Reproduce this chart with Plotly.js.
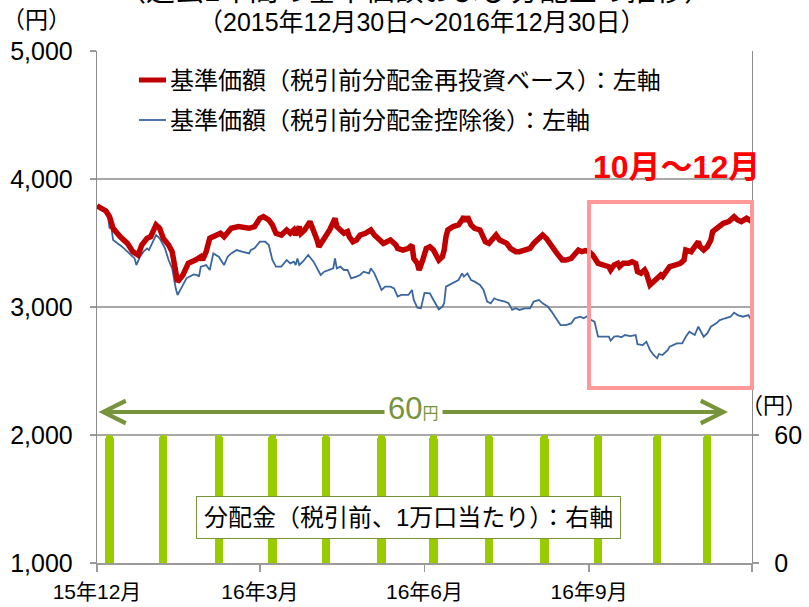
<!DOCTYPE html>
<html>
<head>
<meta charset="utf-8">
<script src="https://cdn.plot.ly/plotly-3.0.1.min.js"></script>
<style>html,body{margin:0;padding:0;background:#fff;}#chart{width:809px;height:607px;}</style>
</head>
<body>
<div id="chart"></div>
<script>
// ---- data ----
// day offsets counted from 2015-12-30
const redDays = [0,5,7,9,13,17,20,23,25,28,30,33,35,37,40,42,44,45,48,51,55,58,59,61,63,66,69,71,73,75,79,85,88,91,93,96,98,100,103,106,108,110,111,113,114,116,119,121,123,124,126,128,130,133,134,136,138,140,141,143,145,147,150,153,155,158,160,162,164,167,168,171,174,176,177,179,180,182,184,186,188,190,191,193,194,195,196,199,202,204,205,206,207,209,211,214,216,217,219,221,223,225,229,231,234,236,239,242,244,247,249,251,254,257,260,262,265,267,269,271,273,275,277,280,283,286,287,289,291,292,294,297,299,301,302,304,306,307,309,311,313,315,316,318,320,323,326,328,329,332,335,336,337,339,341,343,344,347,350,353,356,358,360,363,366];
const redValues = [3791,3750,3705,3615,3549,3497,3432,3406,3484,3537,3549,3641,3615,3537,3484,3432,3276,3198,3250,3341,3367,3393,3367,3432,3537,3562,3576,3549,3576,3615,3628,3615,3628,3693,3706,3680,3641,3576,3562,3602,3576,3602,3562,3628,3576,3602,3667,3602,3523,3471,3510,3562,3602,3693,3628,3602,3576,3589,3549,3510,3523,3562,3576,3602,3562,3523,3497,3510,3523,3484,3458,3445,3458,3484,3380,3341,3289,3367,3458,3471,3445,3393,3367,3393,3445,3549,3602,3628,3641,3680,3706,3667,3706,3641,3615,3602,3549,3510,3497,3537,3562,3523,3497,3458,3432,3432,3445,3458,3497,3537,3562,3537,3471,3419,3367,3367,3380,3419,3445,3432,3440,3432,3406,3341,3328,3315,3289,3328,3341,3315,3341,3341,3354,3341,3276,3263,3289,3263,3172,3198,3224,3250,3237,3276,3315,3328,3341,3367,3445,3432,3484,3510,3471,3445,3471,3523,3589,3628,3654,3667,3706,3680,3667,3693,3667];

const blueDays = [0,6,7,8,9,14,17,21,22,24,26,28,29,31,33,35,38,40,42,44,45,47,50,54,56,57,58,61,63,65,68,71,73,75,78,81,85,86,88,91,94,96,98,100,103,106,108,110,111,112,113,115,118,121,124,125,127,130,132,133,134,136,138,140,141,142,145,147,149,152,153,155,157,159,161,164,166,167,168,170,174,176,177,179,181,183,186,188,190,191,193,194,195,197,200,202,204,205,207,209,211,214,216,218,220,222,224,228,230,232,234,236,239,242,244,247,249,252,254,257,259,262,265,267,270,272,274,275,278,280,283,286,287,289,291,293,295,298,301,302,305,307,309,311,313,314,316,318,319,320,322,324,327,329,331,334,336,339,341,343,346,348,351,354,356,358,361,364,365,366];
const blueValues = [3791,3732,3615,3628,3523,3471,3432,3380,3328,3393,3432,3458,3445,3510,3562,3537,3458,3367,3302,3146,3094,3146,3224,3255,3250,3237,3315,3328,3289,3419,3393,3328,3393,3419,3445,3432,3419,3445,3458,3510,3510,3484,3367,3315,3315,3367,3341,3354,3328,3380,3328,3354,3406,3354,3276,3250,3276,3289,3302,3380,3302,3315,3289,3289,3250,3224,3237,3250,3276,3263,3302,3263,3198,3133,3159,3159,3146,3107,3081,3094,3094,3133,3055,2995,2990,3110,3107,3055,3003,2982,3003,3029,3159,3172,3198,3211,3263,3237,3263,3211,3198,3172,3133,3042,3029,3068,3055,3042,3029,2977,2990,2977,2990,2990,3042,3055,3029,3003,2964,2898,2859,2859,2872,2912,2924,2912,2930,2905,2885,2768,2768,2768,2737,2768,2773,2763,2781,2773,2781,2710,2703,2729,2664,2625,2599,2633,2625,2651,2664,2690,2703,2716,2716,2768,2807,2781,2846,2768,2794,2846,2872,2898,2912,2924,2956,2937,2924,2937,2912,2924];

const distDates = ['2016-01-06','2016-02-05','2016-03-07','2016-04-06','2016-05-06','2016-06-06','2016-07-05','2016-08-05','2016-09-05','2016-10-05','2016-11-07','2016-12-05'];
const distValues = [60,60,60,60,60,60,60,60,60,60,60,60];

const xTickVals = ['2015-12-30','2016-03-30','2016-06-30','2016-09-30','2016-12-30'];
const xTickText = ['15年12月','16年3月','16年6月','16年9月',''];
const yTickVals = [1000,2000,3000,4000,5000];
const y2TickVals = [0,60];

const seriesNames = ['基準価額（税引前分配金再投資ベース）：左軸','基準価額（税引前分配金控除後）：左軸'];

// ---- helpers ----
function toDate(d){
  const t = Date.UTC(2015,11,30) + d*86400000;
  return new Date(t).toISOString().slice(0,10);
}

const FONT = 'Liberation Sans, Arial, "Noto Sans CJK JP", sans-serif';
const DAY = 86400000;

const traces = [
  {
    type:'bar', x: distDates, y: distValues, yaxis:'y2',
    width: distDates.map(()=>4.6*DAY),
    marker:{color:'#99CC00', cornerradius:4, line:{width:0}},
    showlegend:false, hoverinfo:'skip'
  },
  {
    type:'scatter', mode:'lines', name: seriesNames[1],
    x: blueDays.map(toDate), y: blueValues,
    line:{color:'#3A679E', width:1.8, shape:'linear'}, showlegend:false
  },
  {
    type:'scatter', mode:'lines', name: seriesNames[0],
    x: redDays.map(toDate), y: redValues,
    line:{color:'#C00000', width:5.5, shape:'linear'}, showlegend:false
  }
];

function px2x(p){ return (p-97)/655; }
function px2y(p){ return (563-p)/512; }

const layout = {
  width:809, height:607,
  margin:{l:97, r:57, t:51, b:44, pad:0},
  paper_bgcolor:'#fff', plot_bgcolor:'#fff',
  font:{family:FONT, color:'#000'},
  showlegend:false,
  bargap:0,
  xaxis:{
    type:'date', range:['2015-12-30','2016-12-30'],
    tickmode:'array', tickvals:xTickVals, ticktext:xTickText,
    ticks:'outside', ticklen:7, tickcolor:'#9a9a9a', tickwidth:1.3,
    showline:true, linecolor:'#9a9a9a', linewidth:1.5,
    showgrid:false, zeroline:false,
    tickfont:{size:21, family:FONT}, ticklabelstandoff:2
  },
  yaxis:{
    range:[1000,5000], tickmode:'array', tickvals:yTickVals,
    tickformat:',d',
    ticks:'outside', ticklen:6, tickcolor:'#9a9a9a', tickwidth:1.3,
    showline:true, linecolor:'#8c8c8c', linewidth:1.3,
    showgrid:true, gridcolor:'#a8a8a8', gridwidth:1.6, zeroline:false,
    tickfont:{size:25, family:FONT}, ticklabelstandoff:12
  },
  yaxis2:{
    overlaying:'y', side:'right', range:[0,240],
    tickmode:'array', tickvals:y2TickVals,
    ticks:'outside', ticklen:6, tickcolor:'#9a9a9a', tickwidth:1.3,
    showline:true, linecolor:'#8c8c8c', linewidth:1.3,
    showgrid:false, zeroline:false,
    tickfont:{size:25, family:FONT}, ticklabelstandoff:10
  },
  shapes:[
    // 10月～12月 highlight box
    {type:'rect', xref:'paper', yref:'paper',
     x0:px2x(589), x1:px2x(752), y0:px2y(388), y1:px2y(202),
     line:{color:'#FF9999', width:4}, fillcolor:'rgba(0,0,0,0)'},
    // legend line samples
    {type:'line', xref:'paper', yref:'paper', x0:px2x(139), x1:px2x(166), y0:px2y(80), y1:px2y(80),
     line:{color:'#C00000', width:5}},
    {type:'line', xref:'paper', yref:'paper', x0:px2x(139), x1:px2x(166), y0:px2y(120), y1:px2y(120),
     line:{color:'#3A679E', width:1.8}}
  ],
  annotations:[
    {xref:'paper', yref:'paper', x:px2x(415), y:px2y(9), xanchor:'center', yanchor:'bottom',
     text:'（過去1年間の基準価額および分配金の推移）', showarrow:false, font:{size:29, family:FONT}},
    {xref:'paper', yref:'paper', x:px2x(421), y:px2y(22), xanchor:'center', yanchor:'middle',
     text:'（2015年12月30日～2016年12月30日）', showarrow:false, font:{size:25, family:FONT}},
    {xref:'paper', yref:'paper', x:px2x(36), y:px2y(20), xanchor:'center', yanchor:'middle',
     text:'（円）', showarrow:false, font:{size:23, family:FONT}},
    {xref:'paper', yref:'paper', x:px2x(809), y:px2y(405), xanchor:'right', yanchor:'middle',
     text:'（円）', showarrow:false, font:{size:22, family:FONT}},
    {xref:'paper', yref:'paper', x:px2x(168), y:px2y(80), xanchor:'left', yanchor:'middle',
     text:seriesNames[0], showarrow:false, font:{size:24, family:FONT}},
    {xref:'paper', yref:'paper', x:px2x(168), y:px2y(120), xanchor:'left', yanchor:'middle',
     text:seriesNames[1], showarrow:false, font:{size:24, family:FONT}},
    {xref:'paper', yref:'paper', x:px2x(676), y:px2y(167), xanchor:'center', yanchor:'middle',
     text:'<b>10月～12月</b>', showarrow:false, font:{size:32, color:'#FF0000', family:FONT}},
    // double arrow
    {xref:'paper', yref:'paper', x:px2x(728), y:px2y(412), axref:'pixel', ayref:'pixel', ax:-631, ay:0,
     text:'', showarrow:true, arrowside:'end+start', arrowhead:5, arrowsize:1.1, arrowwidth:4,
     arrowcolor:'#77933C', standoff:0, startstandoff:0},
    {xref:'paper', yref:'paper', x:px2x(413), y:px2y(408), xanchor:'center', yanchor:'middle',
     text:'60<span style="font-size:16px">円</span>', showarrow:false, bgcolor:'#fff', borderpad:3,
     font:{size:31, color:'#77933C', family:FONT}},
    // distribution label box
    {xref:'paper', yref:'paper', x:px2x(408), y:px2y(517), xanchor:'center', yanchor:'middle',
     text:'分配金（税引前、1万口当たり）：右軸', showarrow:false, bgcolor:'#fff',
     bordercolor:'#77933C', borderwidth:1, borderpad:7, font:{size:24, family:FONT}}
  ]
};

Plotly.newPlot('chart', traces, layout, {staticPlot:true, displayModeBar:false});
</script>
</body>
</html>
